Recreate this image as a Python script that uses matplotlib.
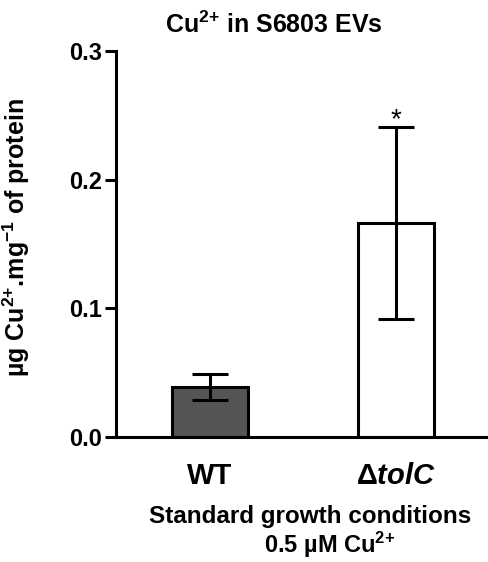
import matplotlib
matplotlib.use("Agg")
import matplotlib.pyplot as plt

categories = ["WT", "ΔtolC"]
means = [0.039, 0.1665]
err_low = [0.029, 0.092]
err_high = [0.049, 0.241]
yticks = [0.0, 0.1, 0.2, 0.3]
ytick_labels = ["0.0", "0.1", "0.2", "0.3"]

plt.rcParams['font.family'] = ['Liberation Sans', 'DejaVu Sans']
plt.rcParams['font.weight'] = 'bold'
plt.rcParams['mathtext.fontset'] = 'custom'
plt.rcParams['mathtext.rm'] = 'Liberation Sans:bold'
plt.rcParams['mathtext.it'] = 'Liberation Sans:bold:italic'
plt.rcParams['mathtext.bf'] = 'Liberation Sans:bold'
plt.rcParams['mathtext.default'] = 'rm'

fig = plt.figure(figsize=(4.89, 5.62), dpi=100)
ax = fig.add_axes([0.237, 0.2224, 0.763, 0.687])

x = [0, 1]
colors = ['#555555', 'white']
ax.bar(x, means, width=0.41, color=colors, edgecolor='black', linewidth=2.2, zorder=2)
yerr = [[m - l for m, l in zip(means, err_low)], [h - m for m, h in zip(means, err_high)]]
ax.errorbar(x, means, yerr=yerr, fmt='none', ecolor='black', elinewidth=2.2,
            capsize=13, capthick=2.2, zorder=3)

ax.text(1, err_high[1] - 0.005, "*", ha='center', va='bottom', fontsize=20, fontweight='normal')

ax.set_xlim(-0.505, 1.5)
ax.set_ylim(0, 0.3)
ax.set_yticks(yticks)
ax.set_yticklabels(ytick_labels, fontsize=17, fontweight='bold')
ax.set_xticks(x)
ax.set_xticklabels([r"WT", r"$\Delta\mathit{tolC}$"], fontsize=21, fontweight='bold')
ax.tick_params(axis='x', length=0, pad=18)
ax.tick_params(axis='y', length=8, width=2.2, pad=2, direction='out')

for s in ['top', 'right']:
    ax.spines[s].set_visible(False)
for s in ['left', 'bottom']:
    ax.spines[s].set_linewidth(2.2)

ax.set_ylabel(r"µg Cu$^{2{+}}$.mg$^{{-}1}$ of protein", fontsize=18, fontweight='bold')
ax.yaxis.set_label_coords(-0.225, 0.517)

fig.text(274 / 489, 1 - 25 / 562, r"Cu$^{2{+}}$ in S6803 EVs", ha='center', va='center',
         fontsize=18, fontweight='bold')
fig.text(310 / 489, 1 - 517 / 562, "Standard growth conditions", ha='center', va='center',
         fontsize=17.5, fontweight='bold')
fig.text(330 / 489, 1 - 545 / 562, r"0.5 µM Cu$^{2{+}}$", ha='center', va='center',
         fontsize=17, fontweight='bold')

fig.savefig("out.png", dpi=100)
